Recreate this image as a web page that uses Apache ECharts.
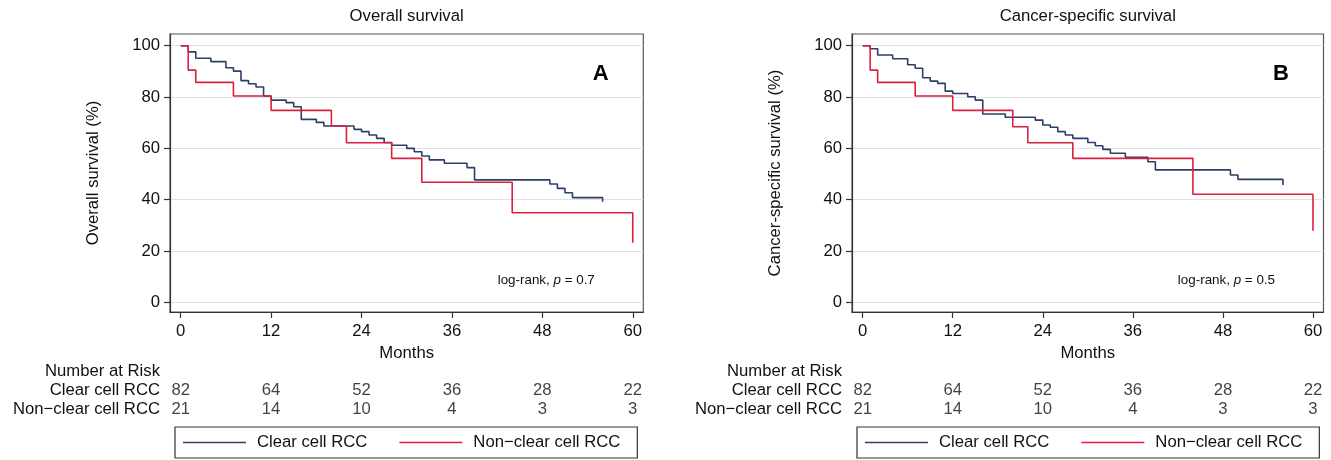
<!DOCTYPE html>
<html>
<head>
<meta charset="utf-8">
<script src="https://cdn.jsdelivr.net/npm/echarts@6/dist/echarts.min.js"></script>
<style>html,body{margin:0;padding:0;background:#fff}#c{width:1331px;height:460px}</style>
</head>
<body>
<div id="c"></div>
<script>
// ---- data ----
const monthTicks = [0, 12, 24, 36, 48, 60];
const pctTicks = [0, 20, 40, 60, 80, 100];
const groupNames = ['Clear cell RCC', 'Non\u2212clear cell RCC'];

// Overall survival (panel A)
const osClearTime = [0, 1, 2, 4, 6, 7, 8, 9, 10, 11, 12, 14, 15, 16, 18, 19, 23, 24, 25, 26, 27, 28, 30, 31, 32, 33, 35, 38, 39, 49, 50, 51, 52, 56];
const osClearSurv = [100, 97.6, 95.1, 93.8, 91.4, 90.1, 86.4, 85.2, 83.9, 80.4, 78.8, 77.8, 76.2, 71.3, 70.1, 68.7, 67.4, 66.5, 65.2, 63.9, 62.3, 61.2, 60.0, 58.7, 57.0, 55.5, 54.2, 52.5, 47.7, 46.1, 44.4, 42.7, 40.8, 39.2];
const osNonTime = [0, 1, 2, 7, 12, 20, 22, 28, 32, 44, 60];
const osNonSurv = [100, 90.5, 85.7, 80.4, 74.8, 68.7, 62.2, 56.1, 46.8, 34.9, 23.2];

// Cancer-specific survival (panel B)
const cssClearTime = [0, 1, 2, 4, 6, 7, 8, 9, 10, 11, 12, 14, 15, 16, 19, 23, 24, 25, 26, 27, 28, 30, 31, 32, 33, 35, 38, 39, 49, 50, 56];
const cssClearSurv = [100, 98.8, 96.4, 94.9, 92.6, 91.2, 87.5, 86.2, 85.3, 82.3, 81.4, 80.1, 78.8, 73.4, 72.1, 71.0, 69.1, 68.2, 66.5, 65.2, 63.9, 62.3, 61.0, 59.6, 58.1, 56.5, 54.8, 51.6, 49.6, 47.9, 45.7];
const cssNonTime = [0, 1, 2, 7, 12, 20, 22, 28, 44, 60];
const cssNonSurv = [100, 90.5, 85.7, 80.4, 74.8, 68.4, 62.2, 56.1, 42.1, 27.9];

// Number at risk
const riskClear = [82, 64, 52, 36, 28, 22];
const riskNon = [21, 14, 10, 4, 3, 3];

const panelTitles = ['Overall survival', 'Cancer-specific survival'];
const yNames = ['Overall survival (%)', 'Cancer-specific survival (%)'];
const pValues = ['0.7', '0.5'];
const panelLetters = ['A', 'B'];

// ---- style / layout ----
const FONT = '"Liberation Sans", Arial, Helvetica, sans-serif';
const FS = 16.7;
const TXT = '#111';
const BLUE = '#2f3e66';
const RED = '#d9203f';
const panels = [
  { left: 170, width: 473.3 },
  { left: 852, width: 471.5 }
];
const X_MIN = -1.42, X_MAX = 61.4;
const Y_MIN = -3.78, Y_MAX = 104.56;

const zip = (a, b) => a.map((v, i) => [v, b[i]]);
const curves = [
  [zip(osClearTime, osClearSurv), zip(osNonTime, osNonSurv)],
  [zip(cssClearTime, cssClearSurv), zip(cssNonTime, cssNonSurv)]
];

const grid = [], xAxis = [], yAxis = [], series = [], title = [], legend = [];

panels.forEach((p, k) => {
  const gi = k * 2;
  // main plot grid
  grid.push({ left: p.left, width: p.width, top: 34, height: 278, show: true, borderColor: '#555', borderWidth: 1.2, backgroundColor: '#fff' });
  // risk table grid
  grid.push({ left: p.left, width: p.width, top: 380.5, height: 38, show: false });

  xAxis.push({
    gridIndex: gi, type: 'value', min: X_MIN, max: X_MAX, position: 'bottom',
    name: 'Months', nameLocation: 'middle', nameGap: 30,
    nameTextStyle: { fontFamily: FONT, fontSize: FS, color: TXT },
    axisLine: { show: true, onZero: false, lineStyle: { color: '#333', width: 1.2 } },
    axisTick: { show: true, length: 6, customValues: monthTicks, lineStyle: { color: '#333', width: 1.2 } },
    axisLabel: { customValues: monthTicks, margin: 11, fontFamily: FONT, fontSize: FS, color: TXT },
    splitLine: { show: false }
  });
  xAxis.push({ gridIndex: gi + 1, type: 'value', min: X_MIN, max: X_MAX, show: false });

  yAxis.push({
    gridIndex: gi, type: 'value', min: Y_MIN, max: Y_MAX,
    name: yNames[k], nameLocation: 'middle', nameGap: 68,
    nameTextStyle: { fontFamily: FONT, fontSize: FS, color: TXT },
    axisLine: { show: true, onZero: false, lineStyle: { color: '#333', width: 1.2 } },
    axisTick: { show: true, length: 6, customValues: pctTicks, lineStyle: { color: '#333', width: 1.2 } },
    axisLabel: { customValues: pctTicks, margin: 10, fontFamily: FONT, fontSize: FS, color: TXT },
    splitLine: { show: true, lineStyle: { color: '#e2e2e2', width: 1.2 } }
  });
  yAxis.push({
    gridIndex: gi + 1, type: 'category', data: groupNames, inverse: true,
    axisLine: { show: false }, axisTick: { show: false }, splitLine: { show: false },
    axisLabel: { interval: 0, hideOverlap: false, margin: 10, fontFamily: FONT, fontSize: FS, color: TXT }
  });

  [BLUE, RED].forEach((col, s) => {
    series.push({
      name: groupNames[s], type: 'line', step: 'end', xAxisIndex: gi, yAxisIndex: gi,
      data: curves[k][s], symbol: 'none', animation: false,
      lineStyle: { color: col, width: 1.6 }, itemStyle: { color: col }
    });
  });

  const riskData = [];
  monthTicks.forEach((m, i) => {
    riskData.push([m, groupNames[0], riskClear[i]]);
    riskData.push([m, groupNames[1], riskNon[i]]);
  });
  series.push({
    type: 'scatter', xAxisIndex: gi + 1, yAxisIndex: gi + 1, data: riskData,
    symbolSize: 1, itemStyle: { color: 'transparent' }, animation: false, silent: true,
    encode: { x: 0, y: 1 },
    label: { show: true, position: 'inside', formatter: (q) => String(q.value[2]), fontFamily: FONT, fontSize: FS, color: TXT }
  });

  const cx = p.left + p.width / 2;
  title.push({ text: panelTitles[k], left: cx, top: 8, textAlign: 'center', padding: 0,
    textStyle: { fontFamily: FONT, fontSize: FS, fontWeight: 'normal', color: TXT } });
  title.push({ text: panelLetters[k], left: p.left + p.width - 42.5, top: 63, textAlign: 'center', padding: 0,
    textStyle: { fontFamily: FONT, fontSize: 22, fontWeight: 'bold', color: '#000' } });
  title.push({ text: '{n|log-rank, }{i|p}{n| = ' + pValues[k] + '}', left: p.left + p.width - 48.5, top: 274, textAlign: 'right', padding: 0,
    textStyle: { fontWeight: 'normal', fontFamily: FONT, fontSize: 13.4, color: TXT, rich: {
      n: { fontFamily: FONT, fontSize: 13.4, fontWeight: 'normal', color: TXT },
      i: { fontFamily: FONT, fontSize: 13.4, fontWeight: 'normal', fontStyle: 'italic', color: TXT }
    } } });
  title.push({ text: 'Number at Risk', left: p.left - 10, top: 363, textAlign: 'right', padding: 0,
    textStyle: { fontFamily: FONT, fontSize: FS, fontWeight: 'normal', color: TXT } });

  legend.push({
    data: groupNames, left: p.left + 5, top: 427, orient: 'horizontal',
    icon: 'rect', itemWidth: 63, itemHeight: 1.6, itemGap: 32, selectedMode: false,
    borderColor: '#333', borderWidth: 1.2, padding: [7, 17, 7, 8],
    textStyle: { fontFamily: FONT, fontSize: FS, color: TXT, padding: [0, 0, 0, 6] }
  });
});

const chart = echarts.init(document.getElementById('c'), null, { renderer: 'canvas' });
chart.setOption({ animation: false, backgroundColor: '#fff', grid, xAxis, yAxis, series, title, legend });
</script>
</body>
</html>
